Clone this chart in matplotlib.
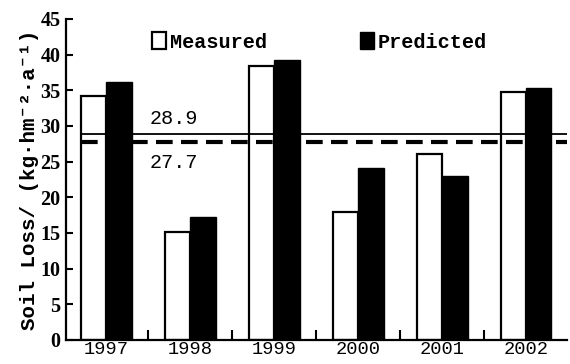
import matplotlib
matplotlib.use("Agg")
import matplotlib.pyplot as plt
import numpy as np
from matplotlib.patches import Patch

years = ["1997", "1998", "1999", "2000", "2001", "2002"]
measured = [34.2, 15.2, 38.4, 17.9, 26.0, 34.7]
predicted = [36.1, 17.2, 39.2, 24.1, 23.0, 35.3]
mean_pred = 28.9
mean_meas = 27.7

mono = ["Liberation Mono", "DejaVu Sans Mono"]

fig = plt.figure(figsize=(5.7, 3.64), dpi=100)
ax = fig.add_axes([0.1158, 0.066, 0.879, 0.882])

x = np.arange(len(years))
w = 0.3
ax.bar(x - 0.145, measured, w, color="white", edgecolor="black", linewidth=1.6, zorder=2)
ax.bar(x + 0.155, predicted, w, color="black", edgecolor="black", linewidth=1.0, zorder=2)

# mean lines
ax.hlines(mean_pred, -0.3, 5.5, color="black", linewidth=1.3, zorder=3)
ax.hlines(mean_meas, -0.3, 5.5, color="black", linewidth=3, linestyles=(0, (4, 2)), zorder=3)
ax.text(0.52, 31.0, "28.9", fontsize=14.5, family=mono, ha="left", va="center")
ax.text(0.52, 24.9, "27.7", fontsize=14.5, family=mono, ha="left", va="center")

ax.set_xlim(-0.476, 5.49)
ax.set_ylim(0, 45)
ax.set_yticks(range(0, 46, 5))
ax.set_xticks(x)
ax.set_xticklabels(years, family=mono, fontsize=13.5)
ax.set_xticks(x[:-1] + 0.5, minor=True)
ax.tick_params(axis="x", which="major", length=0, pad=1)
ax.tick_params(axis="x", which="minor", direction="in", length=7, width=1.5)
ax.tick_params(axis="y", direction="in", length=5, width=1.5, pad=4)
for lab in ax.get_yticklabels():
    lab.set_family("Liberation Serif")
    lab.set_fontweight("bold")
    lab.set_fontsize(14.5)

for s in ["top", "right"]:
    ax.spines[s].set_visible(False)
for s in ["left", "bottom"]:
    ax.spines[s].set_linewidth(1.6)

ax.set_ylabel("Soil Loss/ (kg\u00b7hm\u207b\u00b2\u00b7a\u207b\u00b9)", family=mono,
              fontweight="bold", fontsize=15, labelpad=1)

handles = [Patch(facecolor="white", edgecolor="black", linewidth=1.6),
           Patch(facecolor="black", edgecolor="black")]
leg = ax.legend(handles, ["Measured", "Predicted"], ncol=2, loc="upper left",
                bbox_to_anchor=(0.135, 1.015), frameon=False, handlelength=0.7,
                handleheight=0.9, handletextpad=0.2, columnspacing=4.6,
                prop={"family": mono, "weight": "bold", "size": 14.5})

fig.savefig("out.png", dpi=100)
